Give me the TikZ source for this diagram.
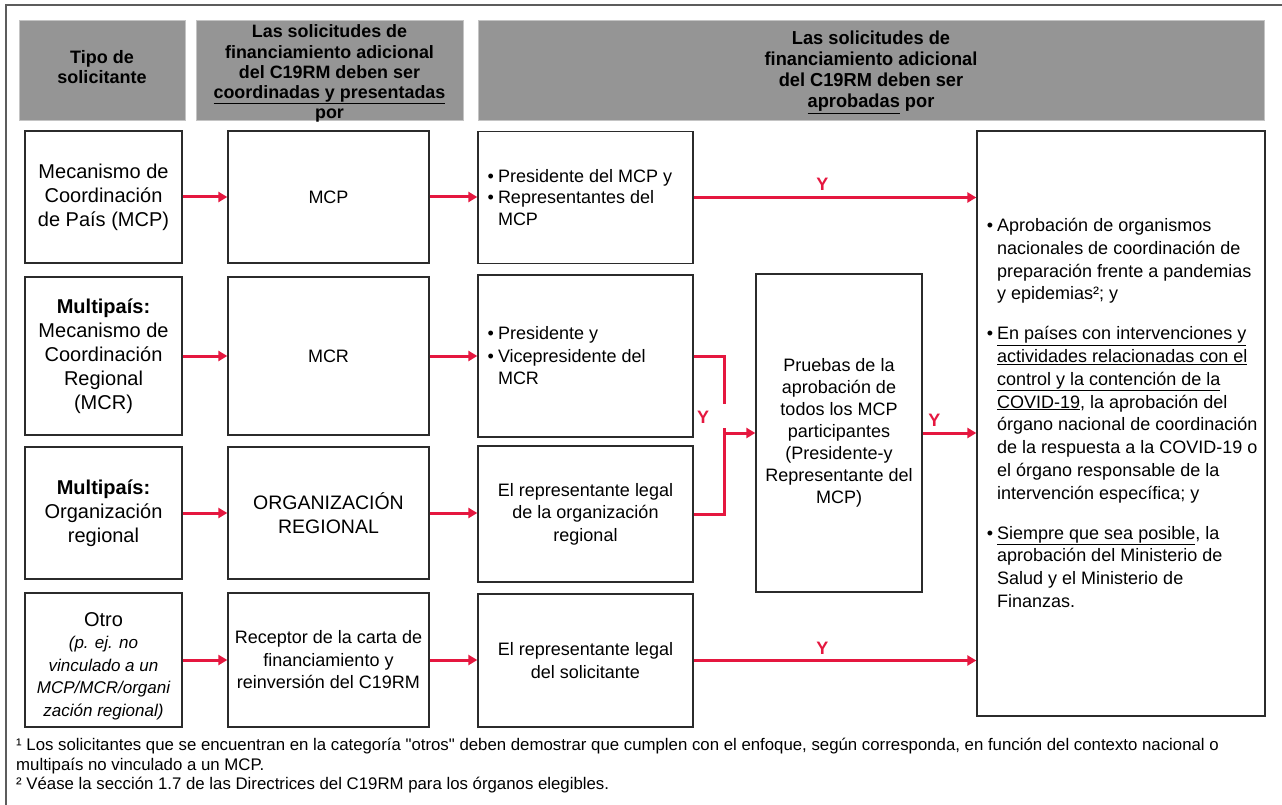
\documentclass[tikz,border=0pt]{standalone}
\usepackage{fontspec}
\setmainfont{Liberation Sans}
\newfontfamily\rawfont{Liberation Sans}
\newfontfamily\narrowbf[FakeStretch=0.97]{Liberation Sans Bold}
\usetikzlibrary{arrows.meta}
\newcommand\fsz[2]{\fontsize{#1}{#2}\selectfont}
\newcommand\bul{\llap{\textbullet\hspace{4pt}}}
\definecolor{hdr}{HTML}{959595}
\definecolor{hdredge}{HTML}{C4C4C4}
\definecolor{arr}{HTML}{E5173F}
\definecolor{frm}{HTML}{5C5C5C}
\definecolor{bx}{HTML}{2B2B2B}
\tikzset{
  hdrbox/.style={fill=hdr, draw=hdredge, line width=0.8pt, inner sep=0pt},
  hdrtext/.style={inner sep=0pt, align=center},
  cell/.style={draw=bx, line width=1.3pt, inner sep=0pt, align=center, font=\fsz{18}{22.5}},
  typecell/.style={cell, font=\fsz{20}{24}},
  flow/.style={draw=arr, line width=3pt, -{Triangle[length=9pt,width=10pt]}},
  link/.style={draw=arr, line width=3pt},
  ylab/.style={text=arr, inner sep=0pt, font=\bfseries\fsz{18}{20}},
  note/.style={inner sep=0pt, align=left, anchor=north west},
}
\begin{document}
\begin{tikzpicture}[x=1pt,y=-1pt]
\useasboundingbox (0,0) rectangle (1282,805);
% frame
\draw[frm, line width=2pt] (6,805) -- (6,5) -- (1282,5);
% headers
\node[hdrbox, minimum width=166pt, minimum height=100pt] (h1) at (102,70) {};
\node[hdrtext, font=\bfseries\fsz{18}{20}] (h1t) at (102,67.5) {Tipo de\\solicitante};
\node[hdrbox, minimum width=267pt, minimum height=100pt] (h2) at (329.5,70) {};
\node[hdrtext, font=\bfseries\fsz{17.9}{20.1}] (h2t) at (329.5,73.5) {Las solicitudes de\\financiamiento adicional\\del C19RM deben ser\\\underline{coordinadas y presentadas}\\por};
\node[hdrbox, minimum width=786pt, minimum height=100pt] (h3) at (871,70) {};
\node[hdrtext, font=\narrowbf\fsz{18.8}{21.1}] (h3t) at (871,72) {Las solicitudes de\\financiamiento adicional\\del C19RM deben ser\\\underline{aprobadas} por};
% column 1
\node[typecell, minimum width=157pt, minimum height=132pt] (c1r1) at (103.5,197) {Mecanismo de\\Coordinación\\de País (MCP)};
\node[typecell, minimum width=157pt, minimum height=158pt] (c1r2) at (103.5,356) {\textbf{Multipaís:}\\Mecanismo de\\Coordinación\\Regional\\(MCR)};
\node[typecell, minimum width=157pt, minimum height=132pt] (c1r3) at (103.5,513) {\textbf{Multipaís:}\\Organización\\regional};
\node[cell, minimum width=157pt, minimum height=134pt] (c1r4) at (103.5,660) {};
\node[hdrtext, font=\fsz{20}{22.5}] (c1r4t) at (103.5,666) {Otro\\{\itshape\fsz{17}{22.5}(p. ej. no}\\{\itshape\fsz{17}{22.5}vinculado a un}\\{\itshape\fsz{17}{22.5}MCP/MCR/organi}\\{\itshape\fsz{17}{22.5}zación regional)}};
% column 2
\node[cell, minimum width=201pt, minimum height=132pt] (c2r1) at (328.5,197) {MCP};
\node[cell, minimum width=201pt, minimum height=158pt] (c2r2) at (328.5,356) {MCR};
\node[cell, minimum width=201pt, minimum height=132pt, font=\fsz{19.5}{24}] (c2r3) at (328.5,513) {ORGANIZACIÓN\\REGIONAL};
\node[cell, minimum width=201pt, minimum height=134pt] (c2r4) at (328.5,660) {Receptor de la carta de\\financiamiento y\\reinversión del C19RM};
% column 3
\node[cell, minimum width=215pt, minimum height=132pt, align=left, font=\fsz{18}{21.5}] (c3r1) at (585.5,197.5) {\makebox[175pt][l]{\bul Presidente del MCP y}\\\bul Representantes del\\MCP};
\node[cell, minimum width=215pt, minimum height=162pt, align=left] (c3r2) at (585.5,356) {\makebox[175pt][l]{\bul Presidente y}\\\bul Vicepresidente del\\MCR};
\node[cell, minimum width=215pt, minimum height=136pt] (c3r3) at (585.5,514) {El representante legal\\de la organización\\regional};
\node[cell, minimum width=215pt, minimum height=133pt] (c3r4) at (585.5,660.5) {El representante legal\\del solicitante};
% column 4
\node[cell, minimum width=166pt, minimum height=318pt, font=\fsz{18}{22}] (c4) at (839,433) {Pruebas de la\\aprobación de\\todos los MCP\\participantes\\(Presidente-y\\Representante del\\MCP)};
% column 5
\node[cell, minimum width=288pt, minimum height=585pt] (c5) at (1121,423.5) {};
\node[note, font=\fsz{18}{22.8}] (c5t) at (997,218) {\bul Aprobación de organismos\\nacionales de coordinación de\\preparación frente a pandemias\\y epidemias²; y\\[17pt]
\bul\underline{En países con intervenciones y}\\\underline{actividades relacionadas con el}\\\underline{control y la contención de la}\\\underline{COVID-19}, la aprobación del\\órgano nacional de coordinación\\de la respuesta a la COVID-19 o\\el órgano responsable de la\\intervención específica; y\\[17pt]
\bul\underline{Siempre que sea posible}, la\\aprobación del Ministerio de\\Salud y el Ministerio de\\Finanzas.};
% arrows
\draw[flow] (c1r1.east) -- (c2r1.west);
\draw[flow] (c1r2.east) -- (c2r2.west);
\draw[flow] (c1r3.east) -- (c2r3.west);
\draw[flow] (c1r4.east) -- (c2r4.west);
\draw[flow] (c2r1.east) -- (c3r1.west |- c2r1.east);
\draw[flow] (c2r2.east) -- (c3r2.west);
\draw[flow] (c2r3.east) -- (c3r3.west |- c2r3.east);
\draw[flow] (c2r4.east) -- (c3r4.west |- c2r4.east);
\draw[flow] (c3r1.east) -- (c3r1.east -| c5.west) node[ylab, pos=0.455, above=5pt] (y1) {Y};
\draw[flow] (c3r4.east) -- (c3r4.east -| c5.west) node[ylab, pos=0.455, above=5pt] (y4) {Y};
\coordinate (jt) at (724,404);
\coordinate (jb) at (724,428);
\coordinate (jm) at (724,433);
\draw[link] (c3r2.east) -| (jt);
\draw[link] (c3r3.east) -| (jb);
\draw[flow] (jm) -- (jm -| c4.west);
\node[ylab] (y2) at (703,417) {Y};
\draw[flow] (c4.east) -- (c4.east -| c5.west) node[ylab, pos=0.22, above=5pt] (y3) {Y};
% footnotes
\node[note, font=\rawfont\fsz{16.8}{19.6}] (fn) at (16,738) {¹ Los solicitantes que se encuentran en la categoría "otros" deben demostrar que cumplen con el enfoque, según corresponda, en función del contexto nacional o\\multipaís no vinculado a un MCP.\\² Véase la sección 1.7 de las Directrices del C19RM para los órganos elegibles.};
\end{tikzpicture}
\end{document}
